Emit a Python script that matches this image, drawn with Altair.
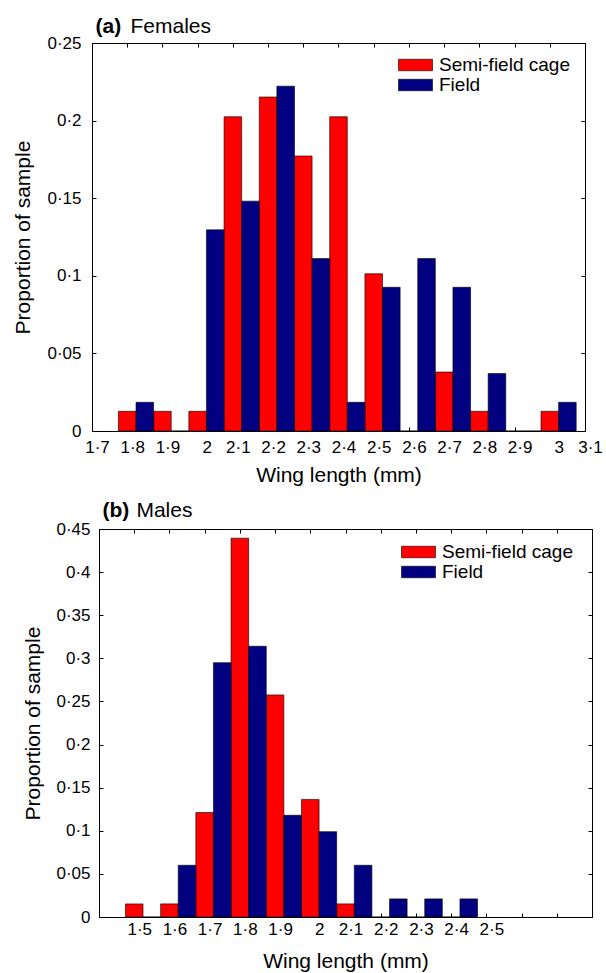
import altair as alt
import pandas as pd

FONT = "Liberation Sans"
SERIES = ["Semi-field cage", "Field"]
COLORS = ["#FF0000", "#000080"]

# (a) Females
fem_bins = [1.8, 1.9, 2.0, 2.1, 2.2, 2.3, 2.4, 2.5, 2.6, 2.7, 2.8, 2.9, 3.0]
fem_cage = [0.0127, 0.0127, 0.0127, 0.2025, 0.2152, 0.1772, 0.2025, 0.1013, 0.0, 0.0380, 0.0127, 0.0, 0.0127]
fem_field = [0.0185, 0.0, 0.1296, 0.1481, 0.2222, 0.1111, 0.0185, 0.0926, 0.1111, 0.0926, 0.0370, 0.0, 0.0185]
fem_xticks = [1.7, 1.8, 1.9, 2.0, 2.1, 2.2, 2.3, 2.4, 2.5, 2.6, 2.7, 2.8, 2.9, 3.0, 3.1]
fem_yticks = [0, 0.05, 0.1, 0.15, 0.2, 0.25]

# (b) Males
male_bins = [1.5, 1.6, 1.7, 1.8, 1.9, 2.0, 2.1, 2.2, 2.3, 2.4]
male_cage = [0.0152, 0.0152, 0.1212, 0.4394, 0.2576, 0.1364, 0.0152, 0.0, 0.0, 0.0]
male_field = [0.0, 0.060, 0.295, 0.314, 0.118, 0.099, 0.060, 0.021, 0.021, 0.021]
male_xticks = [1.4, 1.5, 1.6, 1.7, 1.8, 1.9, 2.0, 2.1, 2.2, 2.3, 2.4, 2.5, 2.6, 2.7, 2.8]
male_yticks = [0, 0.05, 0.1, 0.15, 0.2, 0.25, 0.3, 0.35, 0.4, 0.45]

W, H = 493, 388


def table(bins, cage, field):
    rows = []
    for b, v in zip(bins, cage):
        rows.append({"bin": b, "series": SERIES[0], "value": v})
    for b, v in zip(bins, field):
        rows.append({"bin": b, "series": SERIES[1], "value": v})
    return pd.DataFrame(rows)


def panel(bins, cage, field, xticks, yticks, xlabel_test, letter, name,
          ylab_pad, ytitle_pad, xlab_pad, xtitle_pad, legend_x, legend_y, title_dy, name_dx):
    df = table(bins, cage, field)
    xscale = alt.Scale(domain=[xticks[0], xticks[-1]], nice=False, zero=False)
    yscale = alt.Scale(domain=[yticks[0], yticks[-1]], nice=False)
    xlab = "replace(format(datum.value, '.1~f'), '.', '\u00b7')"
    if xlabel_test:
        xlab = "(" + xlabel_test + ") ? " + xlab + " : ''"
    ylab = "replace(format(datum.value, '.2~f'), '.', '\u00b7')"

    bars = alt.Chart(df).transform_calculate(
        x0="datum.bin + (datum.series == 'Field' ? 0.025 : -0.025)",
        x1="datum.bin + (datum.series == 'Field' ? 0.075 : 0.025)",
    ).mark_bar(stroke="black", strokeWidth=0.6).encode(
        x=alt.X("x0:Q", scale=xscale, axis=alt.Axis(
            orient="bottom", values=xticks, labelExpr=xlab, title="Wing length (mm)",
            ticks=False, tickSize=0, grid=False, domain=True, labelPadding=xlab_pad,
            titlePadding=xtitle_pad,
            labelOffset={"condition": {"test": "datum.value % 1 === 0", "value": 9}, "value": 5},
            labelFlush=False, labelOverlap=False)),
        x2="x1:Q",
        y=alt.Y("value:Q", scale=yscale, axis=alt.Axis(
            orient="left", values=yticks, labelExpr=ylab, title="Proportion of sample",
            ticks=False, tickSize=0, grid=False, domain=True, labelPadding=ylab_pad,
            titlePadding=ytitle_pad, labelFlush=False, labelOverlap=False)),
        y2=alt.datum(0),
        color=alt.Color("series:N", scale=alt.Scale(domain=SERIES, range=COLORS),
                        legend=alt.Legend(
                            title=None, orient="none", legendX=legend_x, legendY=legend_y,
                            symbolType="M-1,-0.34H1V0.34H-1Z", symbolSize=1156,
                            symbolStrokeColor="black", symbolStrokeWidth=0.6,
                            symbolOpacity=1, labelFontSize=19, labelFont=FONT,
                            labelColor="black", labelOffset=6, clipHeight=20,
                            rowPadding=0, padding=0, labelLimit=400)),
    )

    ticks_in_a = alt.Chart(df).mark_point(opacity=0).encode(
        x=alt.X("bin:Q", scale=xscale, axis=alt.Axis(
            orient="top", offset=-H, values=xticks, labels=False, title=None,
            domain=False, ticks=True, tickSize=4, grid=False)),
        y=alt.Y("value:Q", scale=yscale, axis=alt.Axis(
            orient="right", offset=-W, values=yticks, labels=False, title=None,
            domain=False, ticks=True, tickSize=4, grid=False)),
    )
    ticks_in_b = alt.Chart(df).mark_point(opacity=0).encode(
        x=alt.X("bin:Q", scale=xscale, axis=alt.Axis(
            orient="bottom", offset=-H, values=xticks, labels=False, title=None,
            domain=False, ticks=True, tickSize=4, grid=False)),
        y=alt.Y("value:Q", scale=yscale, axis=alt.Axis(
            orient="left", offset=-W, values=yticks, labels=False, title=None,
            domain=False, ticks=True, tickSize=4, grid=False)),
    )

    t_letter = alt.Chart(pd.DataFrame({"t": [letter]})).mark_text(
        align="left", baseline="alphabetic", fontSize=21, fontWeight="bold", font=FONT, color="black"
    ).encode(x=alt.value(3.5), y=alt.value(title_dy), text="t:N")
    t_name = alt.Chart(pd.DataFrame({"t": [name]})).mark_text(
        align="left", baseline="alphabetic", fontSize=21, font=FONT, color="black"
    ).encode(x=alt.value(name_dx), y=alt.value(title_dy), text="t:N")

    return alt.layer(bars, ticks_in_a, ticks_in_b, t_letter, t_name).resolve_axis(
        x="independent", y="independent"
    ).properties(width=W, height=H)


def spacer(w):
    return alt.Chart(pd.DataFrame({"v": [0]})).mark_point(opacity=0).encode(
        x=alt.value(0), y=alt.value(0)
    ).properties(width=w, height=1, view=alt.ViewBackground(stroke=None))


top = panel(fem_bins, fem_cage, fem_field, fem_xticks, fem_yticks, None, "(a)", "Females",
            ylab_pad=11, ytitle_pad=13, xlab_pad=8, xtitle_pad=9, legend_x=306, legend_y=12,
            title_dy=-10, name_dx=38.5)
bottom = panel(male_bins, male_cage, male_field, male_xticks, male_yticks,
               "datum.value > 1.45 && datum.value < 2.55", "(b)", "Males",
               ylab_pad=9, ytitle_pad=12, xlab_pad=4, xtitle_pad=13, legend_x=302, legend_y=13,
               title_dy=-11.7, name_dx=37.4)

top_row = alt.hconcat(spacer(8.5), top, spacing=0).resolve_scale(color="independent").resolve_legend(color="independent")
bottom_row = alt.hconcat(spacer(19), bottom, spacing=0).resolve_scale(color="independent").resolve_legend(color="independent")

chart = alt.vconcat(top_row, bottom_row, spacing=13).resolve_scale(
    color="independent").resolve_legend(color="independent").properties(
    padding={"left": 0, "top": 15, "right": 0, "bottom": 0}, background="white"
).configure_axis(
    labelFont=FONT, titleFont=FONT, labelFontSize=17, titleFontSize=21,
    labelColor="black", titleColor="black", titleFontWeight="normal",
    domainColor="black", tickColor="black", domainWidth=1, tickWidth=1
).configure_view(stroke="black", strokeWidth=1)

chart.save("out.html", embed_options={"renderer": "svg", "actions": False})
